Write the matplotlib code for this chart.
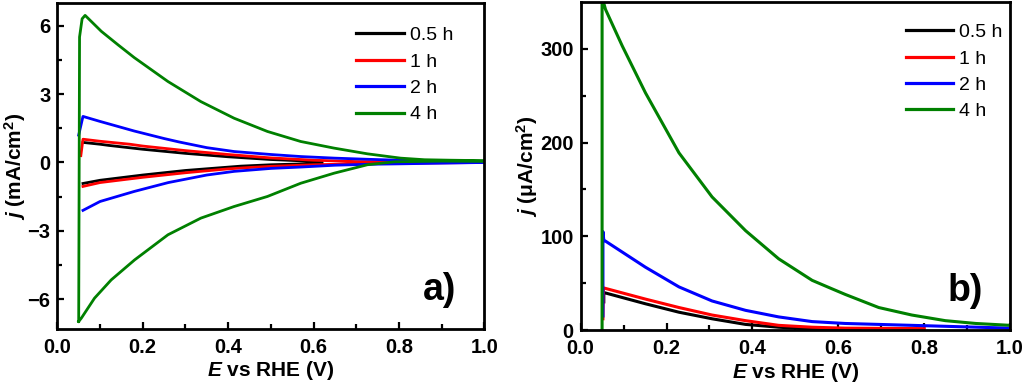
import matplotlib
matplotlib.use("Agg")
import matplotlib.pyplot as plt

plt.rcParams['font.family'] = ['Liberation Sans', 'DejaVu Sans']
plt.rcParams['mathtext.fontset'] = 'custom'
plt.rcParams['mathtext.rm'] = 'Liberation Sans:bold'
plt.rcParams['mathtext.it'] = 'Liberation Sans:bold:italic'
plt.rcParams['mathtext.bf'] = 'Liberation Sans:bold'

labels = ['0.5 h', '1 h', '2 h', '4 h']
colors = ['#000000', '#ff0000', '#0000ff', '#008000']

# ---- panel a: cyclic voltammograms (mA/cm2) ----
a_black_x = [0.06, 0.10, 0.12, 0.20, 0.30, 0.40, 0.50, 0.60, 0.62,
             0.62, 0.50, 0.43, 0.30, 0.20, 0.10, 0.06]
a_black_y = [0.88, 0.80, 0.75, 0.58, 0.40, 0.25, 0.13, 0.05, 0.03,
             -0.04, -0.10, -0.16, -0.35, -0.55, -0.78, -0.92]
a_red_x = [0.055, 0.06, 0.10, 0.17, 0.20, 0.30, 0.40, 0.50, 0.60, 0.70, 0.80, 1.00,
           1.00, 0.80, 0.70, 0.60, 0.50, 0.45, 0.40, 0.30, 0.20, 0.10, 0.06]
a_red_y = [0.30, 1.02, 0.93, 0.80, 0.72, 0.52, 0.35, 0.20, 0.10, 0.04, 0.02, 0.00,
           0.00, -0.03, -0.06, -0.10, -0.17, -0.22, -0.28, -0.45, -0.65, -0.88, -1.05]
a_blue_x = [0.05, 0.06, 0.10, 0.18, 0.25, 0.285, 0.35, 0.414, 0.50, 0.57, 0.65, 0.726, 0.80, 0.85, 0.90, 1.00,
            1.00, 0.90, 0.80, 0.726, 0.65, 0.57, 0.50, 0.414, 0.35, 0.26, 0.18, 0.10, 0.06]
a_blue_y = [1.20, 2.02, 1.80, 1.38, 1.05, 0.90, 0.65, 0.48, 0.35, 0.26, 0.19, 0.14, 0.10, 0.07, 0.04, 0.00,
            0.00, -0.03, -0.06, -0.08, -0.12, -0.20, -0.26, -0.39, -0.55, -0.88, -1.27, -1.71, -2.10]
a_green_x = [0.05, 0.052, 0.058, 0.065, 0.103, 0.142, 0.18, 0.259, 0.336, 0.414, 0.492, 0.57, 0.648, 0.726, 0.804, 0.86, 0.92, 1.00,
             1.00, 0.90, 0.79, 0.726, 0.648, 0.57, 0.492, 0.414, 0.336, 0.259, 0.181, 0.126, 0.087, 0.056, 0.05]
a_green_y = [-6.97, 5.50, 6.30, 6.45, 5.75, 5.16, 4.60, 3.55, 2.67, 1.94, 1.36, 0.92, 0.63, 0.38, 0.19, 0.12, 0.10, 0.08,
             0.05, 0.06, 0.03, -0.10, -0.47, -0.91, -1.49, -1.93, -2.44, -3.17, -4.27, -5.15, -5.95, -6.83, -6.97]

# ---- panel b: currents (uA/cm2) ----
b_black_x = [0.054, 0.054, 0.151, 0.229, 0.306, 0.384, 0.461, 0.539, 0.65]
b_black_y = [30, 40, 28, 19, 12, 6, 3, 1, 0]
b_red_x = [0.052, 0.053, 0.151, 0.229, 0.306, 0.384, 0.461, 0.539, 0.616, 0.80]
b_red_y = [12, 45, 33, 24, 16, 10, 5, 3, 2, 1.5]
b_blue_x = [0.052, 0.052, 0.054, 0.151, 0.229, 0.306, 0.384, 0.461, 0.539, 0.616, 0.771, 1.00]
b_blue_y = [15, 105, 96, 67, 46, 31, 21, 14, 9, 7, 5, 2]
b_green_x = [0.05, 0.05, 0.058, 0.097, 0.151, 0.229, 0.306, 0.384, 0.461, 0.539, 0.585, 0.616, 0.694, 0.771, 0.849, 0.92, 1.00]
b_green_y = [0, 355, 342, 303, 253, 189, 142, 106, 76, 53, 44, 38, 24, 16, 10, 7, 5]

fig = plt.figure(figsize=(10.24, 3.86), dpi=100)
axa = fig.add_axes([0.056, 0.1477, 0.417, 0.845])
axb = fig.add_axes([0.567, 0.145, 0.4195, 0.85])

a_data = [(a_black_x, a_black_y), (a_red_x, a_red_y), (a_blue_x, a_blue_y), (a_green_x, a_green_y)]
b_data = [(b_black_x, b_black_y), (b_red_x, b_red_y), (b_blue_x, b_blue_y), (b_green_x, b_green_y)]

for (x, y), c, l in zip(a_data, colors, labels):
    axa.plot(x, y, color=c, lw=2.0, label=l)
for (x, y), c, l in zip(b_data, colors, labels):
    axb.plot(x, y, color=c, lw=2.2, label=l)

axa.set_xlim(0, 1.0)
axa.set_ylim(-7.3, 7.0)
axa.set_yticks([-6, -3, 0, 3, 6])
axa.set_yticks([-4.5, -1.5, 1.5, 4.5], minor=True)
axb.set_xlim(0, 1.0)
axb.set_ylim(0, 350)
axb.set_yticks([0, 100, 200, 300])
axb.set_yticks([50, 150, 250], minor=True)

for ax in (axa, axb):
    ax.set_xticks([0.0, 0.2, 0.4, 0.6, 0.8, 1.0])
    ax.set_xticks([0.1, 0.3, 0.5, 0.7, 0.9], minor=True)
    ax.xaxis.set_major_formatter(matplotlib.ticker.FormatStrFormatter('%.1f'))
    for s in ax.spines.values():
        s.set_linewidth(2.0)
    ax.tick_params(which='both', direction='in', top=False, right=False, width=1.6)
    ax.tick_params(which='major', length=5, labelsize=14.5, pad=5)
    ax.tick_params(axis='x', which='major', pad=6.5)
    ax.tick_params(which='minor', length=3.5)
    for t in ax.get_xticklabels() + ax.get_yticklabels():
        t.set_fontweight('bold')
    ax.set_xlabel(r'$E$ vs RHE (V)', fontsize=15, fontweight='bold')
    ax.xaxis.set_label_coords(0.5, -0.093)
    leg = ax.legend(loc='upper left', bbox_to_anchor=(0.70, 0.927), frameon=False,
                    fontsize=14, handlelength=2.45, handletextpad=0.3,
                    labelspacing=0.45, borderpad=0, borderaxespad=0)
    for h in leg.get_lines():
        h.set_linewidth(2.3)

axb.legend_.set_bbox_to_anchor((0.757, 0.934))

axa.set_ylabel(r'$j$ (mA/cm$^2$)', fontsize=15, fontweight='bold')
axa.yaxis.set_label_coords(-0.068, 0.5)
axb.set_ylabel(r'$j$ ($\mathregular{\mu}$A/cm$^2$)', fontsize=15, fontweight='bold')
axb.yaxis.set_label_coords(-0.095, 0.5)

axa.text(0.895, 0.12, 'a)', transform=axa.transAxes, fontsize=27, fontweight='bold',
         ha='center', va='center')
axb.text(0.895, 0.12, 'b)', transform=axb.transAxes, fontsize=27, fontweight='bold',
         ha='center', va='center')

fig.savefig('out.png', dpi=100)
